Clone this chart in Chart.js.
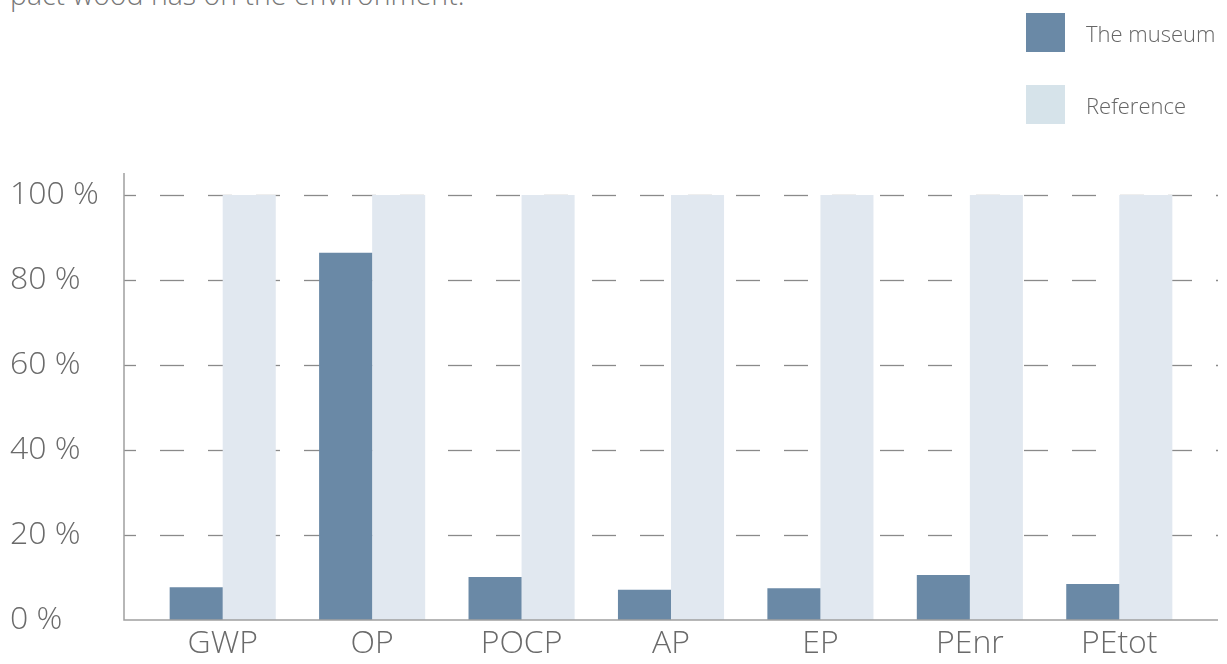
<!DOCTYPE html>
<html>
<head>
<meta charset="utf-8">
<script src="https://cdn.jsdelivr.net/npm/chart.js@4"></script>
<style>
  html, body { margin: 0; padding: 0; background: #fff; overflow: hidden; }
  #wrap { position: relative; width: 1227px; height: 664px; }
  #intro {
    position: absolute; left: 10px; top: -25px; margin: 0;
    font: 300 28.5px "Open Sans", sans-serif; color: #777; white-space: nowrap;
  }
  #legende { position: absolute; left: 1026px; top: 13px; z-index: 2; }
  .item { display: flex; align-items: center; height: 39px; margin-bottom: 33px;
    font: 300 22px "Open Sans", sans-serif; color: #666; }
  .item span { display: inline-block; width: 39px; height: 39px; margin-right: 21px; }
  #lienzo { position: absolute; left: 0; top: 0; width: 1227px; height: 664px; }
</style>
</head>
<body>
<div id="wrap">
  <p id="intro">pact wood has on the environment.</p>
  <div id="lienzo"><canvas id="grafico"></canvas></div>
  <div id="legende"></div>
</div>
<script>
// indicadores y valores (% respecto a la referencia)
const categorias = ['GWP', 'OP', 'POCP', 'AP', 'EP', 'PEnr', 'PEtot'];
const museo = [7.7, 86.4, 10.1, 7.1, 7.5, 10.6, 8.5];
const referencia = [100, 100, 100, 100, 100, 100, 100];
const etiquetasY = [0, 20, 40, 60, 80, 100];

const colorMuseo = '#6a89a6';
const colorRef = '#e1e8f0';
const colorRefLeyenda = '#d6e3ea';

// leyenda fuera del canvas
document.getElementById('legende').innerHTML = `
  <div class="item"><span style="background:${colorMuseo}"></span>The museum</div>
  <div class="item"><span style="background:${colorRefLeyenda}"></span>Reference</div>
`;

// lineas punteadas y ejes que salen un poco del area del grafico
const ejes = {
  id: 'ejes',
  beforeDatasetsDraw(chart) {
    const { ctx, chartArea, scales } = chart;
    ctx.save();
    ctx.strokeStyle = '#8a8a8a';
    ctx.lineWidth = 1.3;
    ctx.setLineDash([24, 24]);
    ctx.lineDashOffset = 12;
    etiquetasY.forEach(v => {
      if (v === 0) return;
      const y = Math.round(scales.y.getPixelForValue(v)) + 0.5;
      ctx.beginPath();
      ctx.moveTo(chartArea.left - 24, y);
      ctx.lineTo(chartArea.right + 24, y);
      ctx.stroke();
    });
    ctx.restore();
  },
  afterDatasetsDraw(chart) {
    const { ctx, chartArea } = chart;
    const x0 = chartArea.left - 24;
    ctx.save();
    ctx.strokeStyle = '#a0a0a0';
    ctx.lineWidth = 1.5;
    ctx.beginPath();
    ctx.moveTo(x0, chartArea.top - 22);
    ctx.lineTo(x0, chartArea.bottom);
    ctx.lineTo(chartArea.right + 24, chartArea.bottom);
    ctx.stroke();
    ctx.restore();
  }
};

const ctx = document.getElementById('grafico').getContext('2d');
new Chart(ctx, {
  type: 'bar',
  data: {
    labels: categorias,
    datasets: [
      { label: 'The museum', data: museo, backgroundColor: colorMuseo },
      { label: 'Reference', data: referencia, backgroundColor: colorRef }
    ]
  },
  options: {
    responsive: true,
    maintainAspectRatio: false,
    animation: false,
    layout: { padding: { top: 195, right: 33, left: 10, bottom: 0 } },
    plugins: { legend: { display: false }, tooltip: { enabled: false } },
    datasets: { bar: { barPercentage: 1, categoryPercentage: 0.71 } },
    scales: {
      x: {
        grid: { display: false, drawTicks: false },
        border: { display: false },
        ticks: { color: '#6a6a6a', padding: 5, font: { family: 'Open Sans', weight: '300', size: 32 } },
        afterFit(scale) { scale.height = 44; }
      },
      y: {
        min: 0,
        max: 100,
        grid: { display: false, drawTicks: false },
        border: { display: false },
        ticks: {
          stepSize: 20,
          padding: 49,
          crossAlign: 'far',
          color: '#6a6a6a',
          font: { family: 'Open Sans', weight: '300', size: 32 },
          callback: v => v + ' %'
        },
        // el padding de las etiquetas no debe recortar el area vertical
        afterFit(scale) {
          scale.width = 138;
          scale.paddingTop = 0;
          scale.paddingBottom = 0;
        }
      }
    }
  },
  plugins: [ejes]
});
</script>
</body>
</html>
